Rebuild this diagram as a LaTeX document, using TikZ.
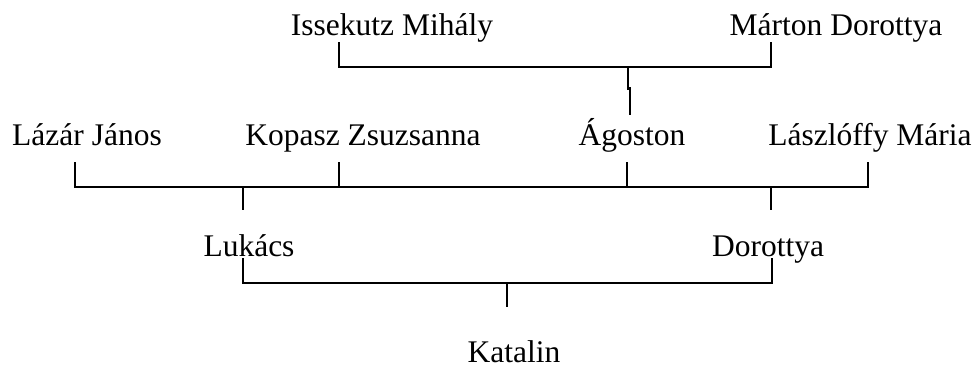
\documentclass[tikz,border=0pt]{standalone}
\usepackage{fontspec}
\setmainfont{Liberation Serif}
\usepackage{tikz}
\usetikzlibrary{positioning}

\begin{document}
\begin{tikzpicture}[x=0.025cm,y=-0.025cm,line width=1.3pt]
\tikzset{person/.style={anchor=base,inner sep=0,outer sep=0,text depth=0pt,font=\fontsize{22.4}{26}\selectfont}}
\useasboundingbox (0,0) rectangle (976,369);

%grandparents
\node (mihaly) at (392,35) [person] {Issekutz Mihály};
\node (marton) at (836,35) [person] {Márton Dorottya};

%parents
\node (lazar) at (87,145) [person] {Lázár János};
\node (kopasz) at (363,145) [person] {Kopasz Zsuzsanna};
\node (agoston) at (632,145) [person] {Ágoston};
\node (laszloffy) at (870,145) [person] {Lászlóffy Mária};

%couple
\node (lukacs) at (249,256) [person] {Lukács};
\node (dorottya) at (768,256) [person] {Dorottya};

%child
\node (katalin) at (514,362) [person] {Katalin};

%tick ends
\coordinate (mihaly-t) at (339,42);
\coordinate (marton-t) at (771,42);
\coordinate (top-l) at (339,67);
\coordinate (top-r) at (771,67);
\coordinate (top-m) at (628,67);
\coordinate (top-d) at (628,90);
\coordinate (agoston-u) at (630,87);
\coordinate (agoston-t) at (630,115);

\coordinate (lazar-t) at (75,162);
\coordinate (kopasz-t) at (339,162);
\coordinate (agoston-b) at (627,162);
\coordinate (laszloffy-t) at (868,162);
\coordinate (mid-l) at (75,187);
\coordinate (mid-r) at (868,187);
\coordinate (kopasz-j) at (339,187);
\coordinate (agoston-j) at (627,187);
\coordinate (lukacs-j) at (243,187);
\coordinate (lukacs-d) at (243,210);
\coordinate (dorottya-j) at (771,187);
\coordinate (dorottya-d) at (771,210);

\coordinate (lukacs-t) at (243,258);
\coordinate (dorottya-t) at (772,258);
\coordinate (low-l) at (243,283);
\coordinate (low-r) at (772,283);
\coordinate (low-m) at (507,283);
\coordinate (katalin-t) at (507,307);

%brackets
\draw (mihaly-t) -- (top-l) -- (top-r) -- (marton-t);
\draw (top-m) -- (top-d);
\draw (agoston-u) -- (agoston-t);

\draw (lazar-t) -- (mid-l) -- (mid-r) -- (laszloffy-t);
\draw (kopasz-t) -- (kopasz-j);
\draw (agoston-b) -- (agoston-j);
\draw (lukacs-j) -- (lukacs-d);
\draw (dorottya-j) -- (dorottya-d);

\draw (lukacs-t) -- (low-l) -- (low-r) -- (dorottya-t);
\draw (low-m) -- (katalin-t);
\end{tikzpicture}
\end{document}
